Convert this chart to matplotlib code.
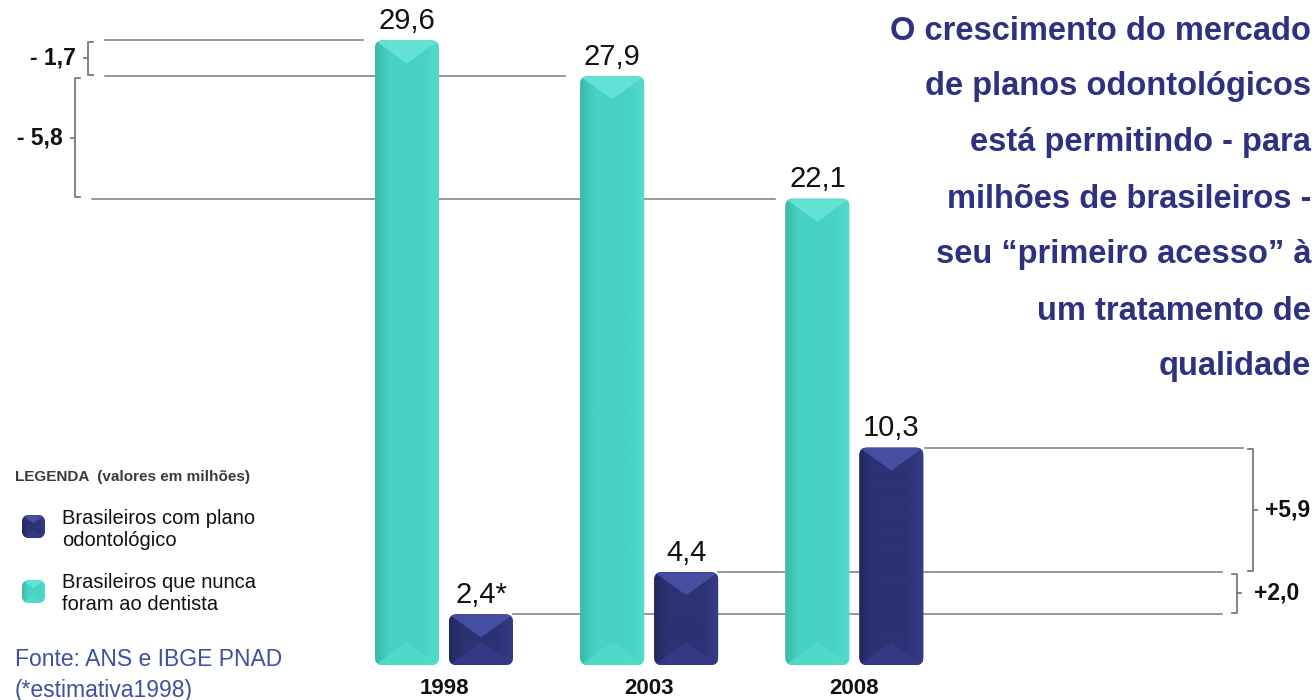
import matplotlib
matplotlib.use('Agg')
import matplotlib.pyplot as plt
import numpy as np
from matplotlib.patches import FancyBboxPatch, Polygon
from matplotlib.colors import LinearSegmentedColormap

# ---------------- data ----------------
years = ['1998', '2003', '2008']
nunca_dentista = [29.6, 27.9, 22.1]      # Brasileiros que nunca foram ao dentista (milhões)
com_plano = [2.4, 4.4, 10.3]             # Brasileiros com plano odontológico (milhões)
labels_nunca = ['29,6', '27,9', '22,1']
labels_plano = ['2,4*', '4,4', '10,3']
diff_nunca = ['- 1,7', '- 5,8']
diff_plano = ['+2,0', '+5,9']
title_lines = ['O crescimento do mercado',
               'de planos odontológicos',
               'está permitindo - para',
               'milhões de brasileiros -',
               'seu \u201cprimeiro acesso\u201d à',
               'um tratamento de',
               'qualidade']
legend_title = 'LEGENDA  (valores em milhões)'
legend_labels = ['Brasileiros com plano\nodontológico',
                 'Brasileiros que nunca\nforam ao dentista']
source_lines = ['Fonte: ANS e IBGE PNAD', '(*estimativa1998)']

# ---------------- style ----------------
plt.rcParams['font.family'] = ['Liberation Sans', 'DejaVu Sans']
TEAL = '#48D2C2'
TEAL_DARK = '#36B8A9'
TEAL_LIGHT = '#52DCCB'
TEAL_TOP = '#66E6D8'
NAVY = '#2C3274'
NAVY_DARK = '#232862'
NAVY_LIGHT = '#353C86'
NAVY_TOP = '#4A54A8'
GRAY = '#7a7a7a'
TITLE_C = '#2E3180'
SRC_C = '#3F4FA2'

W, H = 1316, 700
fig = plt.figure(figsize=(W / 100, H / 100), dpi=100)
fig.patch.set_facecolor('white')

# main data axes, covering the whole figure
PX_X = 205.2     # pixels per category unit
PX_Y = 21.1      # pixels per value unit
X0 = 444         # pixel column of the first group centre
Y0 = 665         # pixel row (from top) of the baseline
ax = fig.add_axes([0, 0, 1, 1])
ax.axis('off')


def px2x(px):
    return (px - X0) / PX_X


def fancy_bar(axis, x, y, w, h, base, dark, light, top_c, sx, sy, zorder=3):
    r = 7.5 / sx
    asp = sx / sy
    patch = FancyBboxPatch((x, y), w, h, boxstyle=f"round,pad=0,rounding_size={r}",
                           mutation_aspect=asp, fc=base, ec='none', zorder=zorder)
    axis.add_patch(patch)
    grad = np.linspace(0, 1, 128)[None, :]
    cmap = LinearSegmentedColormap.from_list('g', [(0, dark), (0.22, base), (0.75, base), (1, light)])
    im = axis.imshow(grad, extent=(x, x + w, y, y + h), cmap=cmap, aspect='auto',
                     zorder=zorder + 0.1, interpolation='bilinear')
    im.set_clip_path(patch)
    d = min(0.36 * w * sx / sy, h * 0.5)
    top = Polygon([(x, y + h), (x + w, y + h), (x + w / 2, y + h - d)], closed=True,
                  fc=top_c, ec='none', alpha=0.85, zorder=zorder + 0.2)
    axis.add_patch(top)
    top.set_clip_path(patch)
    bot = Polygon([(x, y), (x + w, y), (x + w / 2, y + d)], closed=True,
                  fc=light, ec='none', alpha=0.8, zorder=zorder + 0.2)
    axis.add_patch(bot)
    bot.set_clip_path(patch)
    return patch


xpos = np.arange(len(years))
bw = 64 / PX_X
off = 37 / PX_X
bars_n = ax.bar(xpos - off, nunca_dentista, bw, color=TEAL)
bars_p = ax.bar(xpos + off, com_plano, bw, color=NAVY)

for rect, lbl in zip(bars_n, labels_nunca):
    rect.set_visible(False)
    fancy_bar(ax, rect.get_x(), rect.get_y(), rect.get_width(), rect.get_height(),
              TEAL, TEAL_DARK, TEAL_LIGHT, TEAL_TOP, PX_X, PX_Y)
    ax.annotate(lbl, (rect.get_x() + rect.get_width() / 2, rect.get_height()),
                xytext=(0, 4), textcoords='offset points', ha='center', va='bottom',
                fontsize=21, color='#111111')
for rect, lbl in zip(bars_p, labels_plano):
    rect.set_visible(False)
    fancy_bar(ax, rect.get_x(), rect.get_y(), rect.get_width(), rect.get_height(),
              NAVY, NAVY_DARK, NAVY_LIGHT, NAVY_TOP, PX_X, PX_Y)
    ax.annotate(lbl, (rect.get_x() + rect.get_width() / 2, rect.get_height()),
                xytext=(0, 4), textcoords='offset points', ha='center', va='bottom',
                fontsize=21, color='#111111')

for xi, yr in zip(xpos, years):
    ax.annotate(yr, (xi, 0), xytext=(0, -17), textcoords='offset points',
                ha='center', va='center', fontsize=16, fontweight='bold', color='#111111')

# reference lines (behind the bars)
lk = dict(color=GRAY, lw=1.1, zorder=1)
ax.plot([px2x(105), px2x(363)], [nunca_dentista[0]] * 2, **lk)
ax.plot([px2x(105), px2x(565)], [nunca_dentista[1]] * 2, **lk)
ax.plot([px2x(92), px2x(775)], [nunca_dentista[2]] * 2, **lk)
ax.plot([px2x(925), px2x(1243)], [com_plano[2]] * 2, **lk)
ax.plot([px2x(718), px2x(1222)], [com_plano[1]] * 2, **lk)
ax.plot([px2x(513), px2x(1222)], [com_plano[0]] * 2, **lk)


def bracket(xb, y1, y2, hook, tick):
    g = 1.5 / PX_Y
    xs = [xb + hook, xb, xb, xb + hook]
    ys = [y1 - g, y1 - g, y2 + g, y2 + g]
    ax.plot(xs, ys, color=GRAY, lw=1.3, zorder=1, solid_joinstyle='round')
    ym = (y1 + y2) / 2
    ax.plot([xb, xb + tick], [ym, ym], color=GRAY, lw=1.3, zorder=1)
    return ym


h5 = 5 / PX_X
t4 = 4 / PX_X
fs_d = 16.5
ym = bracket(px2x(88), nunca_dentista[0], nunca_dentista[1], h5, -t4)
ax.text(px2x(76), ym, diff_nunca[0], ha='right', va='center', fontsize=fs_d, fontweight='bold', color='#111111')
ym = bracket(px2x(75), nunca_dentista[1], nunca_dentista[2], h5, -t4)
ax.text(px2x(63), ym, diff_nunca[1], ha='right', va='center', fontsize=fs_d, fontweight='bold', color='#111111')
ym = bracket(px2x(1253), com_plano[2], com_plano[1], -h5, t4)
ax.text(px2x(1265), ym, diff_plano[1], ha='left', va='center', fontsize=fs_d, fontweight='bold', color='#111111')
ym = bracket(px2x(1237), com_plano[1], com_plano[0], -h5, t4)
ax.text(px2x(1254), ym, diff_plano[0], ha='left', va='center', fontsize=fs_d, fontweight='bold', color='#111111')

ax.set_xlim(-X0 / PX_X, (W - X0) / PX_X)
ax.set_ylim(-(H - Y0) / PX_Y, Y0 / PX_Y)

# ---------------- overlay in pixel coordinates (y measured from the top) ----------------
pa = fig.add_axes([0, 0, 1, 1], facecolor='none')
pa.axis('off')
pa.set_xlim(0, W)
pa.set_ylim(0, H)


def py(v):
    return H - v


for i, line in enumerate(title_lines):
    pa.text(1311, py(31 + 56.0 * i), line, ha='right', va='center', fontsize=23.5,
            fontweight='bold', color=TITLE_C)

pa.text(15, py(477), legend_title, ha='left', va='center', fontsize=11,
        fontweight='bold', color='#3a3a3a')

icons = [(515, NAVY, NAVY_DARK, NAVY_LIGHT, NAVY_TOP),
         (580, TEAL, TEAL_DARK, TEAL_LIGHT, TEAL_TOP)]
for (ytop, c, cd, cl, ct), lab in zip(icons, legend_labels):
    fancy_bar(pa, 22, py(ytop + 23), 23, 23, c, cd, cl, ct, 1.0, 1.0)
    pa.text(62, py(ytop + 14), lab, ha='left', va='center', fontsize=14.5,
            color='#111111', linespacing=1.2)

pa.text(15, py(660), source_lines[0], ha='left', va='center', fontsize=16.5, color=SRC_C)
pa.text(15, py(690), source_lines[1], ha='left', va='center', fontsize=16.5, color=SRC_C)
pa.set_xlim(0, W)
pa.set_ylim(0, H)

fig.savefig('out.png', dpi=100, facecolor='white')
